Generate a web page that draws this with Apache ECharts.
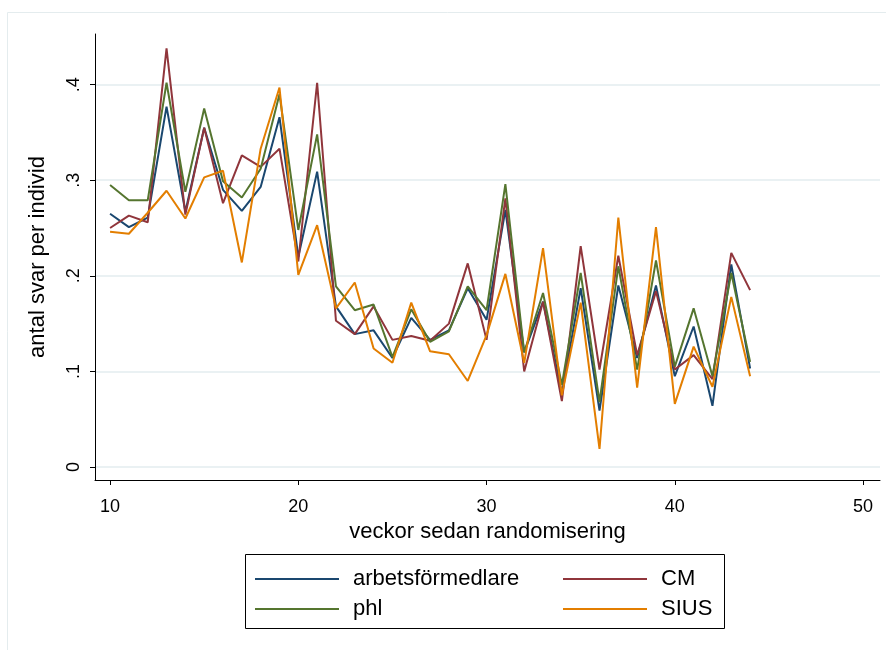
<!DOCTYPE html>
<html>
<head>
<meta charset="utf-8">
<script src="https://cdn.jsdelivr.net/npm/echarts@6/dist/echarts.min.js"></script>
<style>
html,body{margin:0;padding:0;background:#fff;}
#chart{width:886px;height:650px;}
</style>
</head>
<body>
<div id="chart"></div>
<script>
const weeks = [10,11,12,13,14,15,16,17,18,19,20,21,22,23,24,25,26,27,28,29,30,31,32,33,34,35,36,37,38,39,40,41,42,43,44];
const arbetsformedlare = [.265,.251,.261,.377,.267,.355,.290,.268,.293,.366,.220,.309,.168,.139,.143,.114,.156,.133,.143,.187,.154,.269,.120,.173,.077,.187,.059,.190,.114,.190,.095,.147,.064,.212,.103];
const CM = [.250,.263,.256,.438,.264,.355,.276,.326,.314,.333,.215,.402,.153,.139,.168,.133,.137,.132,.150,.213,.133,.281,.100,.173,.069,.231,.102,.221,.117,.184,.102,.117,.092,.224,.185];
const phl = [.295,.279,.279,.402,.288,.375,.299,.282,.312,.390,.248,.348,.189,.164,.170,.115,.165,.131,.142,.189,.164,.296,.120,.182,.086,.203,.068,.210,.102,.216,.105,.166,.095,.203,.110];
const SIUS = [.246,.244,.266,.289,.260,.303,.310,.214,.333,.397,.201,.253,.166,.193,.124,.109,.172,.121,.118,.090,.138,.202,.109,.229,.075,.172,.019,.261,.083,.251,.066,.126,.084,.178,.095];
const xTicks = [10,20,30,40,50];
const yTicks = [0,0.1,0.2,0.3,0.4];
const seriesNames = ['arbetsförmedlare','CM','phl','SIUS'];
const seriesColors = ['#1a476f','#90353b','#55752f','#e37e00'];

const allData = [arbetsformedlare, CM, phl, SIUS];
const FONT = '"Liberation Sans", Arial, sans-serif';

const legendCommon = {
  orient:'vertical', top:561,
  itemWidth:84, itemHeight:2, itemGap:4, icon:'rect',
  textStyle:{fontFamily:FONT, fontSize:22, color:'#000', padding:[0,0,0,9], lineHeight:26}
};

const chart = echarts.init(document.getElementById('chart'), null, {renderer:'canvas'});
chart.setOption({
  backgroundColor:'#ffffff',
  animation:false,
  graphic:[{
    type:'rect', left:5, top:10, shape:{width:900, height:700},
    style:{fill:'none', stroke:'#e4ecee', lineWidth:1}, silent:true, z:-1
  },{
    type:'rect', left:245, top:554, shape:{width:479, height:74},
    style:{fill:'#fff', stroke:'#000', lineWidth:1}, silent:true, z:0
  }],
  grid:{left:95, right:6, top:34, bottom:170},
  xAxis:{
    type:'value', min:9.2, max:50.9,
    name:'veckor sedan randomisering', nameLocation:'middle', nameGap:40,
    nameTextStyle:{fontFamily:FONT, fontSize:22, color:'#000'},
    axisLine:{show:true, onZero:false, lineStyle:{color:'#000', width:1}},
    axisTick:{show:true, length:5, customValues:xTicks, lineStyle:{color:'#000'}},
    axisLabel:{customValues:xTicks, fontFamily:FONT, fontSize:18, color:'#000', margin:18},
    splitLine:{show:false}
  },
  yAxis:{
    type:'value', min:-0.0136, max:0.453,
    name:'antal svar per individ', nameLocation:'middle', nameGap:46, nameRotate:90,
    nameTextStyle:{fontFamily:FONT, fontSize:22, color:'#000'},
    axisLine:{show:true, onZero:false, lineStyle:{color:'#000', width:1}},
    axisTick:{show:true, length:5, customValues:yTicks, lineStyle:{color:'#000'}},
    axisLabel:{customValues:yTicks, rotate:90, fontFamily:FONT, fontSize:18, color:'#000', margin:12,
      formatter:function(v){ if (Math.abs(v)<1e-9) return '0'; return String(Math.round(v*10)/10).replace(/^0/,''); }},
    splitLine:{show:true, lineStyle:{color:'#eaf1f3', width:2}}
  },
  legend:[
    Object.assign({data:['arbetsförmedlare','phl'], left:250}, legendCommon),
    Object.assign({data:['CM','SIUS'], left:558}, legendCommon)
  ],
  series: seriesNames.map(function(n,i){
    return {
      name:n, type:'line', symbol:'none', showSymbol:false,
      data: weeks.map(function(w,j){ return [w, allData[i][j]]; }),
      lineStyle:{color:seriesColors[i], width:2},
      itemStyle:{color:seriesColors[i]},
      z:2+i
    };
  })
});
</script>
</body>
</html>
